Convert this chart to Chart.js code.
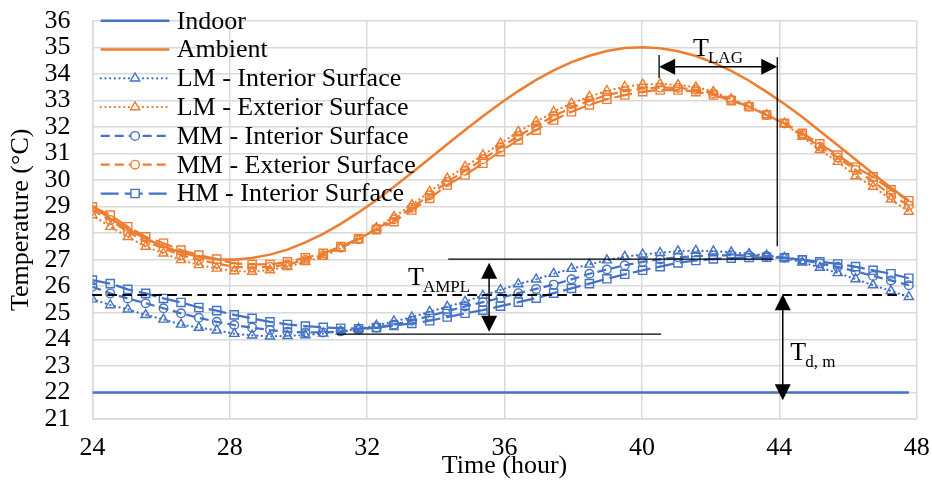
<!DOCTYPE html>
<html>
<head>
<meta charset="utf-8">
<script src="https://cdn.jsdelivr.net/npm/chart.js@4.4.0/dist/chart.umd.min.js"></script>
<style>
  html, body { margin: 0; padding: 0; background: #fff; }
  #wrap { width: 932px; height: 482px; }
</style>
</head>
<body>
<div id="wrap"><canvas id="chart" width="932" height="482"></canvas></div>
<script>
// Time stamps (hour), one sample every 31 minutes
const hours = [24.00, 24.52, 25.03, 25.55, 26.07, 26.58, 27.10, 27.62, 28.13, 28.65,
               29.17, 29.68, 30.20, 30.72, 31.23, 31.75, 32.27, 32.78, 33.30, 33.82,
               34.33, 34.85, 35.37, 35.88, 36.40, 36.92, 37.43, 37.95, 38.47, 38.98,
               39.50, 40.02, 40.53, 41.05, 41.57, 42.08, 42.60, 43.12, 43.63, 44.15,
               44.67, 45.18, 45.70, 46.22, 46.73, 47.25, 47.77];

const indoor = [22, 22, 22, 22, 22, 22, 22, 22, 22, 22, 22, 22, 22, 22, 22, 22, 22, 22, 22, 22,
                22, 22, 22, 22, 22, 22, 22, 22, 22, 22, 22, 22, 22, 22, 22, 22, 22, 22, 22, 22,
                22, 22, 22, 22, 22, 22, 22];

const ambient = [29.00, 28.55, 28.15, 27.79, 27.50, 27.27, 27.11, 27.02, 27.00, 27.06,
                 27.19, 27.38, 27.65, 27.97, 28.35, 28.78, 29.25, 29.75, 30.27, 30.81,
                 31.35, 31.88, 32.40, 32.89, 33.35, 33.77, 34.13, 34.44, 34.68, 34.86,
                 34.97, 35.00, 34.96, 34.85, 34.67, 34.42, 34.11, 33.74, 33.32, 32.86,
                 32.37, 31.85, 31.31, 30.77, 30.24, 29.71, 29.22];

const lmInterior = [25.51, 25.29, 25.13, 24.92, 24.75, 24.56, 24.44, 24.34, 24.21, 24.15,
                    24.11, 24.13, 24.16, 24.22, 24.30, 24.40, 24.52, 24.68, 24.83, 25.04,
                    25.23, 25.42, 25.65, 25.86, 26.08, 26.26, 26.47, 26.66, 26.82, 26.98,
                    27.11, 27.20, 27.26, 27.32, 27.34, 27.32, 27.28, 27.22, 27.16, 27.07,
                    26.90, 26.70, 26.50, 26.27, 26.04, 25.82, 25.60];

const lmExterior = [28.68, 28.24, 27.86, 27.49, 27.24, 26.99, 26.80, 26.67, 26.57, 26.55,
                    26.61, 26.73, 26.92, 27.11, 27.43, 27.74, 28.20, 28.62, 29.06, 29.56,
                    30.06, 30.50, 30.94, 31.38, 31.82, 32.20, 32.57, 32.89, 33.14, 33.36,
                    33.51, 33.60, 33.62, 33.58, 33.50, 33.33, 33.05, 32.78, 32.45, 32.12,
                    31.63, 31.13, 30.69, 30.15, 29.75, 29.27, 28.81];

const mmInterior = [25.98, 25.73, 25.54, 25.36, 25.17, 24.98, 24.81, 24.66, 24.54, 24.44,
                    24.35, 24.29, 24.26, 24.26, 24.30, 24.36, 24.45, 24.55, 24.70, 24.88,
                    25.06, 25.24, 25.40, 25.56, 25.74, 25.90, 26.06, 26.26, 26.47, 26.63,
                    26.79, 26.92, 27.01, 27.09, 27.13, 27.16, 27.17, 27.16, 27.14, 27.08,
                    26.99, 26.86, 26.73, 26.56, 26.39, 26.22, 26.04];

const mmExterior = [28.87, 28.49, 28.05, 27.68, 27.43, 27.17, 26.99, 26.86, 26.73, 26.70,
                    26.73, 26.82, 26.99, 27.17, 27.45, 27.77, 28.17, 28.52, 28.96, 29.43,
                    29.93, 30.35, 30.78, 31.22, 31.66, 32.04, 32.41, 32.73, 32.98, 33.20,
                    33.35, 33.45, 33.48, 33.47, 33.40, 33.26, 33.02, 32.77, 32.45, 32.13,
                    31.70, 31.25, 30.85, 30.38, 29.94, 29.44, 29.04];

const hmInterior = [26.23, 26.10, 25.88, 25.73, 25.54, 25.39, 25.20, 25.08, 24.92, 24.79,
                    24.66, 24.56, 24.50, 24.45, 24.42, 24.40, 24.44, 24.52, 24.60, 24.70,
                    24.84, 24.98, 25.10, 25.25, 25.40, 25.55, 25.74, 25.92, 26.10, 26.28,
                    26.45, 26.60, 26.74, 26.88, 26.97, 27.03, 27.06, 27.08, 27.09, 27.07,
                    27.00, 26.92, 26.84, 26.74, 26.60, 26.47, 26.30];

const hmExterior = [28.99, 28.68, 28.24, 27.86, 27.62, 27.36, 27.17, 27.02, 26.86, 26.82,
                    26.82, 26.92, 27.07, 27.24, 27.49, 27.80, 28.13, 28.43, 28.87, 29.31,
                    29.81, 30.19, 30.63, 31.07, 31.51, 31.88, 32.26, 32.57, 32.83, 33.04,
                    33.20, 33.33, 33.39, 33.39, 33.33, 33.20, 32.99, 32.76, 32.45, 32.14,
                    31.76, 31.36, 30.94, 30.48, 30.12, 29.63, 29.22];

// Annotation guides, in axis units (hour, °C)
const meanLine = { y: 25.67, from: 24, to: 47.6 };
const peakLine = { y: 27.02, from: 34.36, to: 43.83 };
const troughLine = { y: 24.2, from: 31.12, to: 40.56 };
const amplArrow = { x: 35.55, top: 26.88, bottom: 24.29 };
const lagArrow = { y: 34.27, from: 40.5, to: 43.94 };
const lagLine = { x: 43.94, top: 34.63, bottom: 27.51 };
const lagTick = { x: 40.5, top: 34.71, bottom: 33.84 };
const dmArrow = { x: 44.1, top: 25.7, bottom: 21.71 };
const labels = [
  { main: 'T', sub: 'AMPL', x: 33.19, y: 26.05 },
  { main: 'T', sub: 'LAG', x: 41.49, y: 34.67 },
  { main: 'T', sub: 'd, m', x: 44.32, y: 23.22 }
];

const BLUE = '#4472C4';
const ORANGE = '#ED7D31';
const FONT = '"Liberation Serif", "Times New Roman", serif';

function pairs(vals) {
  return hours.map((h, i) => ({ x: h, y: vals[i] }));
}

function surface(label, vals, color, dash, cap, shape, radius) {
  return {
    label: label,
    data: pairs(vals),
    borderColor: color,
    borderWidth: 2.25,
    borderDash: dash,
    borderCapStyle: cap,
    pointStyle: shape,
    pointRadius: radius,
    pointBorderWidth: 1.4,
    pointBorderColor: color,
    pointBackgroundColor: 'rgba(255,255,255,0)'
  };
}

const DOT = [0.1, 4.6];
const DASH = [9, 5];
const LONG = [18, 6];

const datasets = [
  { label: 'Indoor', data: pairs(indoor), borderColor: BLUE, borderWidth: 2.5, pointRadius: 0 },
  { label: 'Ambient', data: pairs(ambient), borderColor: ORANGE, borderWidth: 2.5, pointRadius: 0 },
  surface('LM - Interior Surface', lmInterior, BLUE, DOT, 'round', 'triangle', 5.3),
  surface('LM - Exterior Surface', lmExterior, ORANGE, DOT, 'round', 'triangle', 5.3),
  surface('MM - Interior Surface', mmInterior, BLUE, DASH, 'butt', 'circle', 4.3),
  surface('MM - Exterior Surface', mmExterior, ORANGE, DASH, 'butt', 'circle', 4.3),
  surface('HM - Interior Surface', hmInterior, BLUE, LONG, 'butt', 'rect', 5.8),
  surface('HM - Exterior Surface', hmExterior, ORANGE, LONG, 'butt', 'rect', 5.8)
];

// legend shows the first seven series only
const legendCount = 7;

const legendPlugin = {
  id: 'seriesLegend',
  afterDatasetsDraw(chart) {
    const ctx = chart.ctx;
    const area = chart.chartArea;
    const x0 = area.left + 8.3, x1 = area.left + 77, xm = (x0 + x1) / 2, tx = area.left + 84.3;
    ctx.save();
    ctx.font = '26px ' + FONT;
    ctx.textBaseline = 'middle';
    for (let k = 0; k < legendCount; k++) {
      const ds = chart.data.datasets[k];
      const y = area.top + k * 28.8;
      ctx.strokeStyle = ds.borderColor;
      ctx.lineWidth = ds.borderWidth;
      ctx.setLineDash(ds.borderDash || []);
      ctx.lineCap = ds.borderCapStyle || 'butt';
      ctx.beginPath();
      ctx.moveTo(x0, y);
      ctx.lineTo(x1, y);
      ctx.stroke();
      ctx.setLineDash([]);
      ctx.lineCap = 'butt';
      if (ds.pointRadius) {
        ctx.fillStyle = '#fff';
        ctx.strokeStyle = ds.pointBorderColor;
        ctx.lineWidth = ds.pointBorderWidth;
        Chart.helpers.drawPoint(ctx, { pointStyle: ds.pointStyle, radius: ds.pointRadius, borderWidth: ds.pointBorderWidth, rotation: 0 }, xm, y);
      }
      ctx.fillStyle = '#000';
      ctx.fillText(ds.label, tx, y + 1);
    }
    ctx.restore();
  }
};

function arrowHead(ctx, tx, ty, dx, dy) {
  // filled head pointing along (dx, dy), tip at (tx, ty)
  const len = 16, half = 8;
  const bx = tx - dx * len, by = ty - dy * len;
  ctx.beginPath();
  ctx.moveTo(tx, ty);
  ctx.lineTo(bx - dy * half, by + dx * half);
  ctx.lineTo(bx + dy * half, by - dx * half);
  ctx.closePath();
  ctx.fill();
}

const guidePlugin = {
  id: 'guides',
  afterDatasetsDraw(chart) {
    const ctx = chart.ctx;
    const sx = v => chart.scales.x.getPixelForValue(v);
    const sy = v => chart.scales.y.getPixelForValue(v);
    ctx.save();
    ctx.strokeStyle = '#000';
    ctx.fillStyle = '#000';

    // mean line
    ctx.lineWidth = 2;
    ctx.setLineDash([9.5, 5.5]);
    ctx.beginPath();
    ctx.moveTo(sx(meanLine.from), sy(meanLine.y));
    ctx.lineTo(sx(meanLine.to), sy(meanLine.y));
    ctx.stroke();
    ctx.setLineDash([]);

    ctx.lineWidth = 1.3;
    [peakLine, troughLine].forEach(l => {
      ctx.beginPath();
      ctx.moveTo(sx(l.from), sy(l.y));
      ctx.lineTo(sx(l.to), sy(l.y));
      ctx.stroke();
    });
    [lagLine, lagTick].forEach(l => {
      ctx.beginPath();
      ctx.moveTo(sx(l.x), sy(l.top));
      ctx.lineTo(sx(l.x), sy(l.bottom));
      ctx.stroke();
    });

    // vertical double arrows
    ctx.lineWidth = 1.5;
    [amplArrow, dmArrow].forEach(a => {
      const x = sx(a.x), t = sy(a.top), b = sy(a.bottom);
      ctx.beginPath();
      ctx.moveTo(x, t + 10);
      ctx.lineTo(x, b - 10);
      ctx.stroke();
      arrowHead(ctx, x, t, 0, -1);
      arrowHead(ctx, x, b, 0, 1);
    });

    // horizontal double arrow
    const ly = sy(lagArrow.y), l0 = sx(lagArrow.from), l1 = sx(lagArrow.to);
    ctx.beginPath();
    ctx.moveTo(l0 + 10, ly);
    ctx.lineTo(l1 - 10, ly);
    ctx.stroke();
    arrowHead(ctx, l0, ly, -1, 0);
    arrowHead(ctx, l1, ly, 1, 0);

    // labels with subscripts
    ctx.textBaseline = 'alphabetic';
    labels.forEach(lb => {
      const x = sx(lb.x), y = sy(lb.y);
      ctx.font = '26px ' + FONT;
      ctx.fillText(lb.main, x, y);
      const w = ctx.measureText(lb.main).width;
      ctx.font = '17px ' + FONT;
      ctx.fillText(lb.sub, x + w - 1, y + 7);
    });
    ctx.restore();
  }
};

const axisFont = { family: FONT, size: 26 };
const gridStyle = { color: '#d9d9d9', lineWidth: 1.5, drawTicks: false };

new Chart(document.getElementById('chart'), {
  type: 'line',
  data: { datasets: datasets },
  options: {
    responsive: false,
    animation: false,
    devicePixelRatio: 1,
    layout: { padding: { left: 0, top: 20.7, right: 15.3, bottom: 0 } },
    elements: { line: { tension: 0, fill: false } },
    plugins: { legend: { display: false }, tooltip: { enabled: false } },
    scales: {
      x: {
        type: 'linear',
        min: 24,
        max: 48,
        ticks: { stepSize: 4, color: '#000', font: axisFont, padding: 14, maxRotation: 0, autoSkip: false },
        grid: gridStyle,
        border: { color: '#d9d9d9', width: 1.5 },
        title: { display: true, text: 'Time (hour)', color: '#000', font: axisFont, padding: { top: 0, bottom: 0 } },
        afterFit: s => { s.height = 63; s.paddingLeft = 0; s.paddingRight = 0; }
      },
      y: {
        min: 21,
        max: 36,
        ticks: { stepSize: 1, color: '#000', font: axisFont, padding: 22, autoSkip: false },
        grid: gridStyle,
        border: { color: '#d9d9d9', width: 1.5 },
        title: { display: true, text: 'Temperature (°C)', color: '#000', font: axisFont, padding: { top: 5.4, bottom: 0 } },
        afterFit: s => { s.width = 92.4; s.paddingTop = 0; s.paddingBottom = 0; }
      }
    }
  },
  plugins: [legendPlugin, guidePlugin]
});
</script>
</body>
</html>
